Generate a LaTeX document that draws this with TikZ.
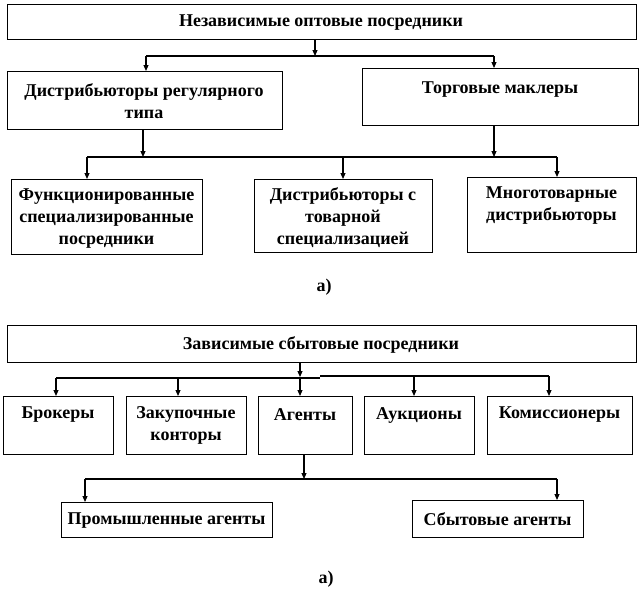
\documentclass[tikz,border=0pt]{standalone}
\usepackage{fontspec}
\setmainfont{Liberation Serif}
\usetikzlibrary{arrows.meta}
\tikzset{
  box/.style={draw, line width=1.1pt, inner sep=0pt, anchor=north west},
  txt/.style={align=center, inner sep=0pt, yshift=-2pt, font=\bfseries\fontsize{18}{22}\selectfont},
  ln/.style={line width=1.1pt},
  arr/.style={line width=1.1pt, -{Triangle[length=6pt,width=5pt]}},
}
\begin{document}
\begin{tikzpicture}[x=1pt,y=-1pt]
\useasboundingbox (0,0) rectangle (641,600);
% ---------- part 1 ----------
\node[box, minimum width=629pt, minimum height=35pt] (T) at (7,4) {};
\node[txt] (tT) at (321,21) {Независимые оптовые посредники};
\node[box, minimum width=275pt, minimum height=58pt] (L) at (7,71) {};
\node[txt] (tL) at (144,99) {Дистрибьюторы регулярного\\типа};
\node[box, minimum width=276pt, minimum height=57pt] (R) at (362,68) {};
\node[txt] (tR) at (500,88) {Торговые маклеры};
\node[box, minimum width=191pt, minimum height=75pt] (B1) at (11,179) {};
\node[txt] (tB1) at (106.5,217) {Функционированные\\специализированные\\посредники};
\node[box, minimum width=178pt, minimum height=73pt] (B2) at (254,179) {};
\node[txt] (tB2) at (343,216) {Дистрибьюторы с\\товарной\\специализацией};
\node[box, minimum width=169pt, minimum height=75pt] (B3) at (467,177) {};
\node[txt] (tB3) at (551.5,204) {Многотоварные\\дистрибьюторы};
\node[txt] (ta) at (324,285) {а)};
\coordinate (j1) at (315,56);
\coordinate (a1) at (146,56);
\coordinate (a2) at (494,56);
\draw[arr] (j1 |- T.south) -- (j1);
\draw[ln] (a1) -- (a2);
\draw[arr] (a1) -- (a1 |- L.north);
\draw[arr] (a2) -- (a2 |- R.north);
\coordinate (c1) at (143,157);
\coordinate (c2) at (494,157);
\coordinate (d1) at (87,157);
\coordinate (d2) at (343,157);
\coordinate (d3) at (557,157);
\draw[arr] (c1 |- L.south) -- (c1);
\draw[arr] (c2 |- R.south) -- (c2);
\draw[ln] (d1) -- (d3);
\draw[arr] (d1) -- (d1 |- B1.north);
\draw[arr] (d2) -- (d2 |- B2.north);
\draw[arr] (d3) -- (d3 |- B3.north);
% ---------- part 2 ----------
\node[box, minimum width=629pt, minimum height=37pt] (D) at (7,325) {};
\node[txt] (tD) at (321,343) {Зависимые сбытовые посредники};
\node[box, minimum width=110pt, minimum height=58pt] (Br) at (3,396) {};
\node[txt] (tBr) at (58,413) {Брокеры};
\node[box, minimum width=120pt, minimum height=58pt] (Zk) at (126,396) {};
\node[txt] (tZk) at (186,423) {Закупочные\\конторы};
\node[box, minimum width=94pt, minimum height=58pt] (Ag) at (258,396) {};
\node[txt] (tAg) at (305,413) {Агенты};
\node[box, minimum width=110pt, minimum height=58pt] (Au) at (364,396) {};
\node[txt] (tAu) at (419,413) {Аукционы};
\node[box, minimum width=145pt, minimum height=58pt] (Km) at (487,396) {};
\node[txt] (tKm) at (559.5,413) {Комиссионеры};
\node[box, minimum width=211pt, minimum height=35pt] (P) at (61,502) {};
\node[txt] (tP) at (166.5,519) {Промышленные агенты};
\node[box, minimum width=171pt, minimum height=37pt] (S) at (412,500) {};
\node[txt] (tS) at (497.5,517) {Сбытовые агенты};
\node[txt] (tb) at (326,577) {а)};
\coordinate (k0) at (300,377);
\coordinate (k1) at (56,378);
\coordinate (k2) at (178,378);
\coordinate (km) at (320,378);
\coordinate (kn) at (320,376);
\coordinate (k4) at (414,376);
\coordinate (k5) at (549,376);
\draw[arr] (k0 |- D.south) -- (k0);
\draw[arr] (k0) -- (k0 |- Ag.north);
\draw[ln] (k1) -- (km);
\draw[ln] (kn) -- (k5);
\draw[arr] (k1) -- (k1 |- Br.north);
\draw[arr] (k2) -- (k2 |- Zk.north);
\draw[arr] (k4) -- (k4 |- Au.north);
\draw[arr] (k5) -- (k5 |- Km.north);
\coordinate (m0) at (304,479);
\coordinate (m1) at (85,479);
\coordinate (m2) at (557,479);
\draw[arr] (m0 |- Ag.south) -- (m0);
\draw[ln] (m1) -- (m2);
\draw[arr] (m1) -- (m1 |- P.north);
\draw[arr] (m2) -- (m2 |- S.north);
\end{tikzpicture}
\end{document}
